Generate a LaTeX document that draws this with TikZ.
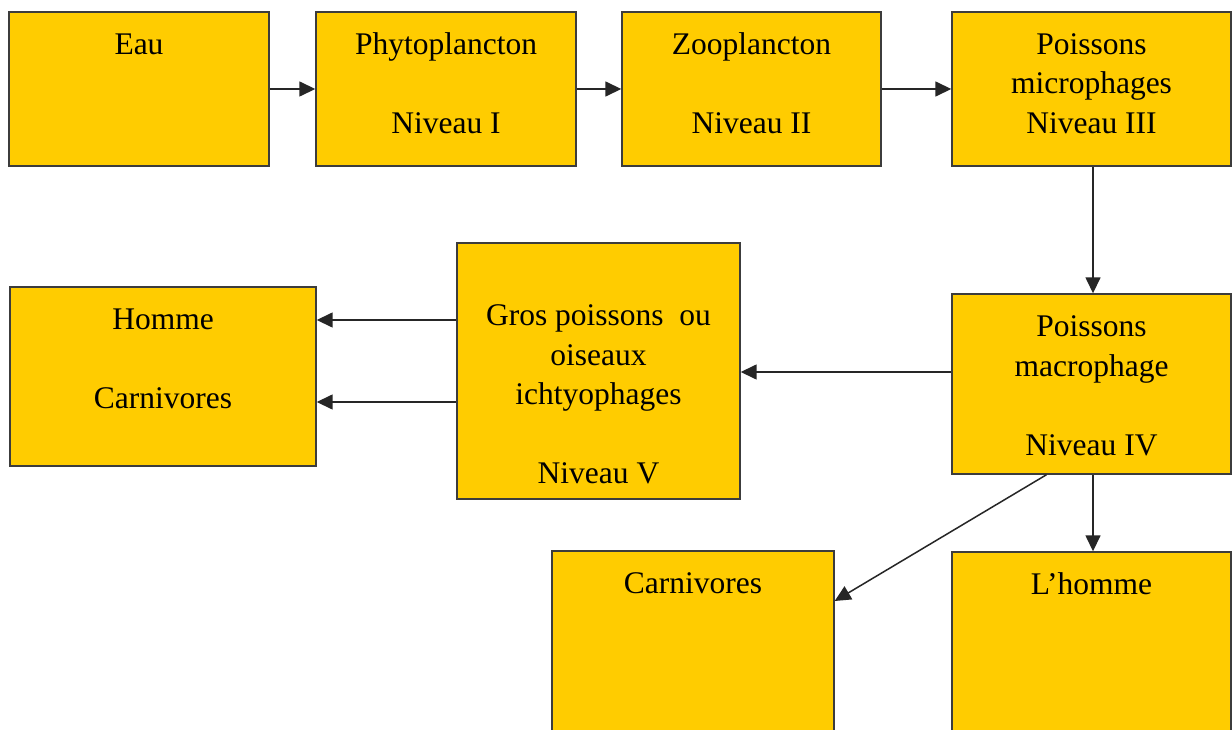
\documentclass[tikz,border=0pt]{standalone}
\usepackage{fontspec}
\setmainfont{Liberation Serif}
\usetikzlibrary{arrows.meta}
\definecolor{boxfill}{RGB}{255,204,0}
\definecolor{boxline}{RGB}{60,60,60}
\begin{document}
\begin{tikzpicture}[x=1pt,y=-1pt,
  box/.style={draw=boxline,fill=boxfill,line width=1.4pt,rectangle,inner sep=0pt},
  lbl/.style={anchor=north,inner sep=0pt,yshift=-15pt,align=center,text=black,
    font=\fontsize{31.5}{39.5}\selectfont},
  arr/.style={draw=black!85,line width=1.5pt,-{Triangle[length=16pt,width=15pt]}}]
\clip (0,0) rectangle (1232,730);
\fill[white] (0,0) rectangle (1232,730);
% top row
\node[box,minimum width=260pt,minimum height=154pt,label={[lbl]north:\rule{0pt}{28pt}Eau}] (eau) at (139,89) {};
\node[box,minimum width=260pt,minimum height=154pt,label={[lbl]north:\rule{0pt}{28pt}Phytoplancton\\[39.5pt]Niveau I}] (phyto) at (446,89) {};
\node[box,minimum width=259pt,minimum height=154pt,label={[lbl]north:\rule{0pt}{28pt}Zooplancton\\[39.5pt]Niveau II}] (zoo) at (751.5,89) {};
\node[box,minimum width=279pt,minimum height=154pt,label={[lbl]north:\rule{0pt}{28pt}Poissons\\microphages\\Niveau III}] (micro) at (1091.5,89) {};
% middle row
\node[box,minimum width=306pt,minimum height=179pt,label={[lbl]north:\rule{0pt}{28pt}Homme\\[39.5pt]Carnivores}] (homme) at (163,376.5) {};
\node[box,minimum width=283pt,minimum height=256pt,label={[lbl]north:\rule{0pt}{68pt}Gros poissons~ ou\\oiseaux\\ichtyophages\\[39.5pt]Niveau V}] (gros) at (598.5,371) {};
\node[box,minimum width=279pt,minimum height=180pt,label={[lbl]north:\rule{0pt}{28pt}Poissons\\macrophage\\[39.5pt]Niveau IV}] (macro) at (1091.5,384) {};
% bottom row
\node[box,minimum width=282pt,minimum height=200pt,label={[lbl]north:\rule{0pt}{28pt}Carnivores}] (carn) at (693,651) {};
\node[box,minimum width=279pt,minimum height=200pt,label={[lbl]north:\rule{0pt}{28pt}L’homme}] (lhomme) at (1091.5,652) {};
% connectors
\draw[arr] (eau.east) -- (phyto.west);
\draw[arr] (phyto.east) -- (zoo.west);
\draw[arr] (zoo.east) -- (micro.west);
\draw[arr] ([xshift=1.5pt]micro.south) -- ([xshift=1.5pt]macro.north);
\draw[arr] ([yshift=12pt]macro.west) -- ([yshift=-1pt]gros.east);
\draw[arr] ([yshift=51pt]gros.west) -- ([yshift=56.5pt]homme.east);
\draw[arr] ([yshift=-31pt]gros.west) -- ([yshift=-25.5pt]homme.east);
\draw[arr] ([xshift=-45pt]macro.south) -- ([yshift=50pt]carn.east);
\draw[arr] ([xshift=1.5pt]macro.south) -- ([xshift=1.5pt]lhomme.north);
\end{tikzpicture}
\end{document}
